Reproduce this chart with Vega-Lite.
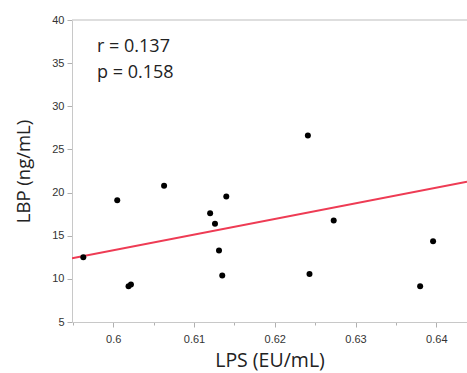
{
  "$schema": "https://vega.github.io/schema/vega-lite/v6.json",
  "width": 395,
  "height": 302,
  "autosize": {"type": "none"},
  "padding": {"left": 72, "top": 20, "right": 0, "bottom": 51},
  "background": "white",
  "config": {
    "view": {"stroke": null},
    "axis": {
      "domainColor": "#c8c8c8",
      "tickColor": "#b0b0b0",
      "grid": false,
      "labelFont": "Liberation Sans",
      "labelFontSize": 11,
      "labelColor": "#333333",
      "titleFont": "Open Sans",
      "titleFontWeight": "normal",
      "titleColor": "#222222"
    }
  },
  "datasets": {
    "points": [
      {"lps": 0.5963, "lbp": 12.5},
      {"lps": 0.6005, "lbp": 19.1},
      {"lps": 0.6063, "lbp": 20.8},
      {"lps": 0.6019, "lbp": 9.15},
      {"lps": 0.6022, "lbp": 9.35},
      {"lps": 0.6120, "lbp": 17.6},
      {"lps": 0.6126, "lbp": 16.4},
      {"lps": 0.6140, "lbp": 19.55},
      {"lps": 0.6131, "lbp": 13.3},
      {"lps": 0.6135, "lbp": 10.4},
      {"lps": 0.6241, "lbp": 26.6},
      {"lps": 0.6273, "lbp": 16.75},
      {"lps": 0.6243, "lbp": 10.55},
      {"lps": 0.6396, "lbp": 14.35},
      {"lps": 0.6380, "lbp": 9.15}
    ],
    "fit": [
      {"lps": 0.5949, "lbp": 12.4},
      {"lps": 0.6438, "lbp": 21.25}
    ],
    "stats": [
      {"label": "r = 0.137", "lps": 0.598, "lbp": 36.3},
      {"label": "p = 0.158", "lps": 0.598, "lbp": 33.3}
    ]
  },
  "resolve": {"axis": {"x": "independent"}},
  "layer": [
    {
      "data": {"name": "fit"},
      "mark": {"type": "rule", "color": "#d3d3d3", "strokeWidth": 1.5},
      "encoding": {
        "y": {"datum": 40, "type": "quantitative"},
        "x": {
          "field": "lps",
          "type": "quantitative",
          "aggregate": "min",
          "axis": {
            "orient": "bottom",
            "title": null,
            "values": [0.595, 0.605, 0.615, 0.625, 0.635],
            "labels": false,
            "domain": false,
            "tickSize": 3
          }
        },
        "x2": {"field": "lps", "aggregate": "max"}
      }
    },
    {
      "data": {"name": "fit"},
      "mark": {"type": "line", "color": "#ee3b54", "strokeWidth": 2, "clip": true},
      "encoding": {
        "x": {"field": "lps", "type": "quantitative", "axis": null},
        "y": {"field": "lbp", "type": "quantitative"}
      }
    },
    {
      "data": {"name": "points"},
      "mark": {"type": "circle", "color": "#000000", "opacity": 1, "size": 36},
      "encoding": {
        "x": {
          "field": "lps",
          "type": "quantitative",
          "scale": {"domain": [0.5949, 0.6438], "nice": false, "zero": false},
          "axis": {
            "orient": "bottom",
            "title": "LPS (EU/mL)",
            "titleFontSize": 19.5,
            "values": [0.6, 0.61, 0.62, 0.63, 0.64],
            "format": "~g",
            "tickSize": 5,
            "labelPadding": 6,
            "titlePadding": 7
          }
        },
        "y": {
          "field": "lbp",
          "type": "quantitative",
          "scale": {"domain": [5, 40], "nice": false, "zero": false},
          "axis": {
            "title": "LBP (ng/mL)",
            "titleFontSize": 18.5,
            "values": [5, 10, 15, 20, 25, 30, 35, 40],
            "tickSize": 5,
            "labelPadding": 3,
            "titlePadding": 18
          }
        }
      }
    },
    {
      "data": {"name": "stats"},
      "mark": {
        "type": "text",
        "align": "left",
        "baseline": "alphabetic",
        "font": "Open Sans",
        "fontSize": 18,
        "color": "#222222"
      },
      "encoding": {
        "x": {"field": "lps", "type": "quantitative", "axis": null},
        "y": {"field": "lbp", "type": "quantitative"},
        "text": {"field": "label"}
      }
    }
  ]
}
